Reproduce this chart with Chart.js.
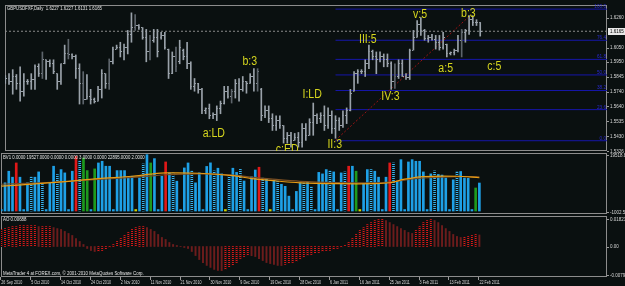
<!DOCTYPE html>
<html>
<head>
<meta charset="utf-8">
<script src="https://cdn.jsdelivr.net/npm/chart.js@4.4.4/dist/chart.umd.min.js"></script>
<style>
  html, body { margin: 0; padding: 0; background: #0a1010; overflow: hidden; }
  body { width: 625px; height: 286px; position: relative; }
  canvas { position: absolute; left: 0; }
</style>
</head>
<body>
<canvas id="main" width="625" height="160" style="top:0"></canvas>
<canvas id="vol" width="625" height="63" style="top:152px"></canvas>
<canvas id="ao" width="625" height="71" style="top:215px"></canvas>
<script>
// GBPUSD daily, 26 Sep 2010 - 22 Feb 2011 (bar index 0..128)

const highP = [1.5855,1.5868,1.5896,1.5862,1.5916,1.5868,1.5827,1.5868,1.5930,1.5937,1.6020,1.5965,1.5965,1.5965,1.5868,1.5937,1.6068,1.6109,1.6006,1.5999,
  1.5937,1.5882,1.5862,1.5758,1.5697,1.5779,1.5896,1.5868,1.5971,1.6054,1.6068,1.6088,1.6075,1.6171,1.6294,1.6281,1.6212,1.6191,1.6178,1.6136,
  1.6178,1.6178,1.6157,1.6157,1.6040,1.6020,1.6054,1.6102,1.6040,1.6088,1.5951,1.5834,1.5800,1.5765,1.5628,1.5655,1.5594,1.5642,1.5676,1.5779,
  1.5779,1.5758,1.5827,1.5834,1.5848,1.5813,1.5868,1.5903,1.5903,1.5765,1.5642,1.5642,1.5587,1.5573,1.5573,1.5504,1.5456,1.5456,1.5449,1.5456,
  1.5518,1.5518,1.5552,1.5662,1.5587,1.5594,1.5642,1.5628,1.5607,1.5573,1.5559,1.5607,1.5628,1.5758,1.5882,1.5896,1.5896,1.5965,1.6068,1.6033,
  1.6020,1.6020,1.6006,1.6006,1.5951,1.5937,1.5965,1.5965,1.5868,1.6040,1.6171,1.6239,1.6260,1.6178,1.6136,1.6143,1.6136,1.6136,1.6157,1.6075,
  1.6020,1.6040,1.6136,1.6178,1.6178,1.6274,1.6274,1.6246,1.6227];
const lowP = [1.5800,1.5793,1.5724,1.5758,1.5676,1.5710,1.5793,1.5758,1.5758,1.5848,1.5834,1.5827,1.5916,1.5868,1.5758,1.5793,1.5937,1.5971,1.5971,1.5834,
  1.5655,1.5655,1.5690,1.5655,1.5662,1.5676,1.5697,1.5765,1.5758,1.5937,1.6040,1.5985,1.5965,1.6006,1.6088,1.6171,1.6178,1.6109,1.5951,1.5965,
  1.6088,1.5985,1.6109,1.6040,1.5834,1.5868,1.5882,1.5937,1.5965,1.5903,1.5758,1.5745,1.5731,1.5587,1.5587,1.5552,1.5552,1.5539,1.5587,1.5655,
  1.5697,1.5662,1.5697,1.5676,1.5745,1.5731,1.5800,1.5745,1.5745,1.5539,1.5559,1.5525,1.5470,1.5470,1.5484,1.5381,1.5381,1.5353,1.5401,1.5353,
  1.5353,1.5401,1.5436,1.5436,1.5518,1.5525,1.5470,1.5484,1.5449,1.5415,1.5470,1.5491,1.5518,1.5607,1.5745,1.5800,1.5868,1.5848,1.5903,1.5965,
  1.5868,1.5951,1.5916,1.5916,1.5758,1.5765,1.5834,1.5848,1.5827,1.5827,1.6033,1.6123,1.6136,1.6102,1.6088,1.6102,1.6040,1.6033,1.6040,1.5985,
  1.5999,1.5999,1.6020,1.5985,1.6088,1.6143,1.6205,1.6205,1.6131];
const openP = [1.5813,1.5834,1.5813,1.5848,1.5800,1.5745,1.5813,1.5813,1.5827,1.5916,1.5868,1.5965,1.5951,1.5937,1.5868,1.5813,1.5937,1.6006,1.5999,1.5985,
  1.5903,1.5800,1.5690,1.5710,1.5690,1.5676,1.5758,1.5868,1.5800,1.5951,1.6040,1.6054,1.6020,1.6054,1.6143,1.6191,1.6205,1.6191,1.6123,1.6020,
  1.6102,1.6123,1.6123,1.6136,1.6040,1.5868,1.5985,1.5951,1.6033,1.5985,1.5937,1.5779,1.5800,1.5758,1.5607,1.5621,1.5573,1.5580,1.5621,1.5662,
  1.5745,1.5710,1.5745,1.5800,1.5758,1.5813,1.5800,1.5848,1.5800,1.5758,1.5573,1.5607,1.5552,1.5504,1.5539,1.5504,1.5415,1.5436,1.5401,1.5422,
  1.5388,1.5484,1.5436,1.5525,1.5573,1.5552,1.5573,1.5504,1.5573,1.5484,1.5539,1.5504,1.5573,1.5607,1.5745,1.5868,1.5882,1.5882,1.5937,1.6020,
  1.5985,1.5965,1.5985,1.5965,1.5937,1.5813,1.5848,1.5937,1.5848,1.5841,1.6033,1.6123,1.6212,1.6171,1.6116,1.6123,1.6109,1.6088,1.6054,1.6075,
  1.6006,1.6013,1.6033,1.6102,1.6157,1.6171,1.6246,1.6226,1.6227];
const closeP = [1.5834,1.5813,1.5848,1.5800,1.5745,1.5813,1.5813,1.5827,1.5916,1.5868,1.5965,1.5951,1.5937,1.5882,1.5813,1.5937,1.6006,1.5999,1.5985,1.5903,
  1.5800,1.5690,1.5710,1.5690,1.5676,1.5758,1.5868,1.5800,1.5951,1.6040,1.6054,1.6020,1.6054,1.6143,1.6191,1.6205,1.6191,1.6123,1.6020,1.6102,
  1.6123,1.6020,1.6136,1.6054,1.5868,1.5985,1.5916,1.6054,1.5985,1.5937,1.5779,1.5800,1.5758,1.5607,1.5621,1.5573,1.5580,1.5621,1.5662,1.5745,
  1.5710,1.5745,1.5800,1.5758,1.5813,1.5800,1.5848,1.5800,1.5882,1.5573,1.5607,1.5552,1.5504,1.5539,1.5504,1.5415,1.5436,1.5401,1.5422,1.5388,
  1.5484,1.5436,1.5525,1.5573,1.5552,1.5573,1.5504,1.5573,1.5484,1.5539,1.5504,1.5573,1.5607,1.5731,1.5868,1.5882,1.5882,1.5937,1.6020,1.5985,
  1.5965,1.5985,1.5965,1.5937,1.5813,1.5848,1.5937,1.5848,1.5841,1.6033,1.6123,1.6212,1.6171,1.6116,1.6123,1.6109,1.6088,1.6054,1.6123,1.6006,
  1.6013,1.6033,1.6102,1.6157,1.6171,1.6246,1.6226,1.6226,1.6165];
const darkBars = [10, 17, 21, 28, 35, 39, 46, 61, 68, 105, 123];

const volumes = [500,9500,13390,11380,16170,11380, 500,9480,11380,11380,13160,8910, 500,9480,15070,12260,13940,12830,
  500,13390,18400,16740,17850,13600, 500,14170,16170,16740,15070,15070, 500,13600,13600,13600,11150,11720,
  500,11150,15840,18950,16170,17630, 500,11720,16510,12830,12830,10040, 500,14500,16170,13390,9480,12830,
  500,15000,16200,13500,14400,12500, 500,12000,14400,13000,14000,10100, 500,11500,13800,14730,11050,10830,
  500,10400,10600,9000,8300,5000, 500,6600,9500,9360,9580,8000, 500,13000,12490,13940,13390,13160,
  500,12830,13160,15070,15070,13390, 500,9140,13940,13940,13390,11380, 500,11380,16170,16170,10040,17280,
  500,16510,17280,16740,16740,13160, 500,12500,13500,12300,12100,11100, 500,10500,13100,13300,11100,11000,
  500,7750,9420];
const volRed = [4, 20, 44, 69, 93, 104];
const volGreen = [22, 23, 25, 40, 95, 127];
const volYellow = [36, 60, 72, 96];
const volDotted = [8, 11, 15, 21, 38, 46, 51, 57, 61, 64, 70, 74, 81, 83, 88, 92, 99, 105, 116, 122];
const maBars = [0, 9, 18, 26, 35, 40, 44, 53, 62, 67, 72, 80, 90, 100, 104, 108, 113, 122, 128];
const maFast = [8400, 9100, 10000, 10900, 11700, 12400, 12800, 12700, 11900, 10900, 10300, 9500, 9200, 9200, 9500, 10700, 11600, 11700, 11200];
const maSlow = [9000, 9400, 10000, 10600, 11300, 11800, 12200, 12500, 12100, 11400, 10800, 10000, 9600, 9500, 9700, 10400, 11100, 11600, 11500];

const aoValues = [0.0102,0.0107,0.0113,0.0119,0.0119,0.0125,0.0125,0.0125,0.0125,0.0125,0.0119,0.0119,0.0119,0.0119,0.0113,0.0107,0.0102,0.0090,0.0078,0.0066,
  0.0048,0.0030,0.0012,-0.0012,-0.0024,-0.0030,-0.0030,-0.0024,-0.0018,-0.0006,0.0012,0.0030,0.0048,0.0066,0.0084,0.0102,0.0113,0.0119,0.0119,0.0113,
  0.0102,0.0090,0.0072,0.0054,0.0042,0.0024,0.0012,0.0006,0.0001,-0.0006,-0.0012,-0.0030,-0.0054,-0.0078,-0.0096,-0.0113,-0.0125,-0.0137,-0.0143,-0.0144,
  -0.0137,-0.0125,-0.0113,-0.0096,-0.0072,-0.0060,-0.0054,-0.0055,-0.0060,-0.0072,-0.0084,-0.0096,-0.0102,-0.0107,-0.0113,-0.0114,-0.0107,-0.0102,-0.0096,-0.0090,
  -0.0078,-0.0066,-0.0054,-0.0048,-0.0042,-0.0036,-0.0030,-0.0024,-0.0023,-0.0018,-0.0012,-0.0006,0.0006,0.0024,0.0048,0.0072,0.0096,0.0113,0.0131,0.0143,
  0.0155,0.0161,0.0162,0.0155,0.0143,0.0131,0.0119,0.0107,0.0096,0.0084,0.0078,0.0096,0.0119,0.0143,0.0155,0.0161,0.0155,0.0143,0.0125,0.0107,
  0.0090,0.0072,0.0060,0.0054,0.0055,0.0060,0.0066,0.0072,0.00688];

const dateBars = [0, 8, 16, 24, 32, 40, 48, 56, 64, 72, 80, 88, 96, 104, 112, 120, 128];
const dateLabels = ['26 Sep 2010', '5 Oct 2010', '14 Oct 2010', '24 Oct 2010', '2 Nov 2010', '11 Nov 2010', '21 Nov 2010',
  '30 Nov 2010', '9 Dec 2010', '19 Dec 2010', '28 Dec 2010', '6 Jan 2011', '16 Jan 2011', '25 Jan 2011', '3 Feb 2011',
  '13 Feb 2011', '22 Feb 2011'];
const priceTicks = [1.6260, 1.6050, 1.5950, 1.5845, 1.5740, 1.5640, 1.5535, 1.5430, 1.5326];
const lastPrice = 1.6165;

// fibonacci retracement drawn from the II:3 low
const fibLevels = [0, 23.6, 38.2, 50, 61.8, 76.4, 100];
const fibPrices = [1.5398, 1.5616, 1.5750, 1.5859, 1.5968, 1.6102, 1.6320];
const fibStartBar = 89;
const trendBars = [89, 125.5];
const trendPrices = [1.5401, 1.6281];

const waveNames = ['a:LD', 'b:3', 'c:ED', 'I:LD', 'II:3', 'III:5', 'IV:3', 'v:5', 'a:5', 'b:3', 'c:5'];
const waveBars = [56.2, 65.9, 76, 82.7, 88.8, 97.7, 103.8, 111.8, 118.7, 124.8, 131.8];
const wavePrices = [1.5449, 1.5951, 1.5333, 1.5724, 1.5367, 1.6109, 1.5707, 1.6284, 1.5903, 1.6291, 1.5920];

const XMIN = -0.08, XMAX = 162.17;
const BG = '#0a1010';
const FONT = '"Liberation Sans", Arial, sans-serif';
const bars = highP.map((_, k) => k);

function txt(ctx, s, x, y, size, sx, color, align) {
  ctx.save();
  ctx.font = size + 'px ' + FONT;
  ctx.fillStyle = color;
  ctx.textAlign = align || 'left';
  ctx.textBaseline = 'middle';
  ctx.translate(x, y);
  ctx.scale(sx, 1);
  ctx.fillText(s, 0, 0);
  ctx.restore();
}

function frame(ctx, a) {
  ctx.save();
  ctx.strokeStyle = '#8c8c8c';
  ctx.lineWidth = 1;
  ctx.strokeRect(Math.round(a.left) + 0.5, Math.round(a.top) + 0.5, Math.round(a.width) - 1, Math.round(a.height) - 1);
  ctx.restore();
}

function axisLabel(ctx, a, y, s) {
  ctx.save();
  ctx.fillStyle = '#9a9a9a';
  ctx.fillRect(a.right, Math.round(y), 2, 1);
  ctx.restore();
  txt(ctx, s, a.right + 3, y, 5.5, 0.82, '#d8d8d8');
}

// dotted histogram look: knock out every other pixel row of the chosen bars
function stipple(datasetIndex, pick) {
  return {
    id: 'stipple',
    afterDatasetDraw(chart, args) {
      if (args.index !== datasetIndex) return;
      const ctx = chart.ctx, a = chart.chartArea;
      ctx.save();
      ctx.fillStyle = BG;
      args.meta.data.forEach((el, k) => {
        if (!pick(k)) return;
        const p = el.getProps(['x', 'y', 'base', 'width'], true);
        const top = Math.max(a.top, Math.min(p.y, p.base));
        const bottom = Math.min(a.bottom, Math.max(p.y, p.base));
        for (let yy = Math.floor(top) + 1; yy < bottom; yy += 2) {
          ctx.fillRect(p.x - p.width / 2 - 0.5, yy, p.width + 1, 1);
        }
      });
      ctx.restore();
    }
  };
}

function baseOptions(padding, ymin, ymax) {
  return {
    responsive: false,
    animation: false,
    devicePixelRatio: 1,
    events: [],
    layout: { padding },
    plugins: { legend: { display: false }, tooltip: { enabled: false } },
    scales: {
      x: { type: 'linear', min: XMIN, max: XMAX, display: false, offset: false },
      y: { min: ymin, max: ymax, display: false }
    }
  };
}

function hline(value, color, dash, from) {
  return {
    type: 'line',
    data: [{ x: from, y: value }, { x: XMAX, y: value }],
    borderColor: color, borderWidth: 1, borderDash: dash, pointRadius: 0
  };
}

function tickImg(side, color) {
  const c = document.createElement('canvas');
  c.width = 3; c.height = 1;
  const g = c.getContext('2d');
  g.fillStyle = color;
  g.fillRect(side < 0 ? 0 : 2, 0, 1, 1);
  return c;
}

// ---------- price panel ----------
const barGray = '#9aa2aa', barDark = '#5e656c';
const mainDatasets = [
  {
    type: 'bar',
    data: bars.map(k => ({ x: k, y: [lowP[k], highP[k]] })),
    backgroundColor: bars.map(k => darkBars.includes(k) ? barDark : barGray),
    barThickness: 1
  },
  {
    type: 'line', showLine: false,
    data: bars.map(k => ({ x: k, y: openP[k] })),
    pointStyle: tickImg(-1, barGray), pointRadius: 1
  },
  {
    type: 'line', showLine: false,
    data: bars.map(k => ({ x: k, y: closeP[k] })),
    pointStyle: tickImg(1, barGray), pointRadius: 1
  },
  hline(lastPrice, '#8a8a8a', [2, 2], XMIN),
  {
    type: 'line',
    data: trendBars.map((b, i) => ({ x: b, y: trendPrices[i] })),
    borderColor: '#9a1414', borderWidth: 1, borderDash: [2, 2], pointRadius: 0
  },
  ...fibPrices.map(p => hline(p, '#1616a8', [], fibStartBar))
];

new Chart(document.getElementById('main'), {
  type: 'bar',
  data: { datasets: mainDatasets },
  options: baseOptions({ left: 1, right: 18, top: 2, bottom: 9 }, 1.5326, 1.6349),
  plugins: [{
    id: 'mainDeco',
    beforeDatasetsDraw(c) { frame(c.ctx, c.chartArea); },
    afterDatasetsDraw(c) {
      const { ctx, chartArea: a } = c;
      const xs = c.scales.x, ys = c.scales.y;
      txt(ctx, 'GBPUSDFXF,Daily  1.6227 1.6227 1.6131 1.6165', a.left + 2, a.top + 3.3, 5.5, 0.78, '#e6e6e6');
      fibPrices.forEach((p, i) => txt(ctx, fibLevels[i].toFixed(1), a.right - 1, ys.getPixelForValue(p) - 2.6, 5.5, 0.85, '#2a2ad0', 'right'));
      ctx.save();
      ctx.beginPath();
      ctx.rect(a.left, a.top, a.width, a.height);
      ctx.clip();
      waveNames.forEach((n, i) => txt(ctx, n, xs.getPixelForValue(waveBars[i]), ys.getPixelForValue(wavePrices[i]), 12, 0.88, '#d6d61e', 'center'));
      ctx.restore();
      priceTicks.forEach(v => axisLabel(ctx, a, ys.getPixelForValue(v), v.toFixed(4)));
      const yl = ys.getPixelForValue(lastPrice);
      ctx.save();
      ctx.fillStyle = '#e8e8e8';
      ctx.fillRect(a.right + 1, Math.round(yl) - 3, 18, 7);
      ctx.restore();
      txt(ctx, lastPrice.toFixed(4), a.right + 3, yl, 5.5, 0.82, '#000000');
    }
  }]
});

// ---------- volume panel ----------
const volColor = k => volRed.includes(k) ? '#e01818'
  : volGreen.includes(k) ? '#1e9a1e'
  : volYellow.includes(k) ? '#d2d200'
  : volDotted.includes(k) ? '#38b4f0' : '#1ea0e6';

new Chart(document.getElementById('vol'), {
  type: 'bar',
  data: {
    datasets: [
      {
        type: 'line',
        data: maBars.map((b, i) => ({ x: b, y: maFast[i] })),
        borderColor: '#e89c14', borderWidth: 1.2, pointRadius: 0, tension: 0.3
      },
      {
        type: 'line',
        data: maBars.map((b, i) => ({ x: b, y: maSlow[i] })),
        borderColor: '#7a4e22', borderWidth: 1.2, pointRadius: 0, tension: 0.3
      },
      {
        type: 'bar',
        data: bars.map(k => ({ x: k, y: volumes[k] })),
        backgroundColor: bars.map(volColor),
        barThickness: 2
      }
    ]
  },
  options: baseOptions({ left: 1, right: 18, top: 1, bottom: 1 }, -1002.5, 19518.8),
  plugins: [
    stipple(2, k => volDotted.includes(k)),
    {
      id: 'volDeco',
      beforeDatasetsDraw(c) { frame(c.ctx, c.chartArea); },
      afterDatasetsDraw(c) {
        const { ctx, chartArea: a } = c;
        txt(ctx, 'BV1 0.0000 19527.0000 0.0000 0.0000 3.0000 0.0000 22895.0000 2.0000', a.left + 2, a.top + 4.3, 5.5, 0.78, '#e6e6e6');
        axisLabel(ctx, a, a.top + 2, '19518.8');
        axisLabel(ctx, a, a.bottom - 2, '-1002.5');
      }
    }
  ]
});

// ---------- awesome oscillator panel ----------
const aoRising = k => k === 0 || aoValues[k] >= aoValues[k - 1];
new Chart(document.getElementById('ao'), {
  type: 'bar',
  data: {
    datasets: [{
      type: 'bar',
      data: bars.map(k => ({ x: k, y: aoValues[k] })),
      backgroundColor: bars.map(k => aoRising(k) ? '#d81818' : '#6c1c1c'),
      barThickness: 1.3
    }]
  },
  options: baseOptions({ left: 1, right: 18, top: 1, bottom: 9 }, -0.01821, 0.01821),
  plugins: [
    stipple(0, k => aoRising(k)),
    {
      id: 'aoDeco',
      beforeDatasetsDraw(c) { frame(c.ctx, c.chartArea); },
      afterDatasetsDraw(c) {
        const { ctx, chartArea: a } = c;
        const xs = c.scales.x, ys = c.scales.y;
        txt(ctx, 'AO 0.00688', a.left + 2, a.top + 3.7, 5.5, 0.8, '#e6e6e6');
        txt(ctx, 'MetaTrader 4 at FOREX.com, \u00a9 2001-2010 MetaQuotes Software Corp.', a.left + 2, a.bottom - 3.5, 5.5, 0.8, '#e6e6e6');
        axisLabel(ctx, a, a.top + 3, '0.01821');
        axisLabel(ctx, a, ys.getPixelForValue(0), '0.00');
        axisLabel(ctx, a, a.bottom - 2, '-0.00792');
        ctx.save();
        ctx.fillStyle = '#9a9a9a';
        dateBars.forEach(b => ctx.fillRect(Math.round(xs.getPixelForValue(b)) - 1, a.bottom, 1, 3));
        ctx.restore();
        dateBars.forEach((b, i) => txt(ctx, dateLabels[i], xs.getPixelForValue(b), a.bottom + 5, 5.5, 0.67, '#d8d8d8'));
      }
    }
  ]
});
</script>
</body>
</html>
